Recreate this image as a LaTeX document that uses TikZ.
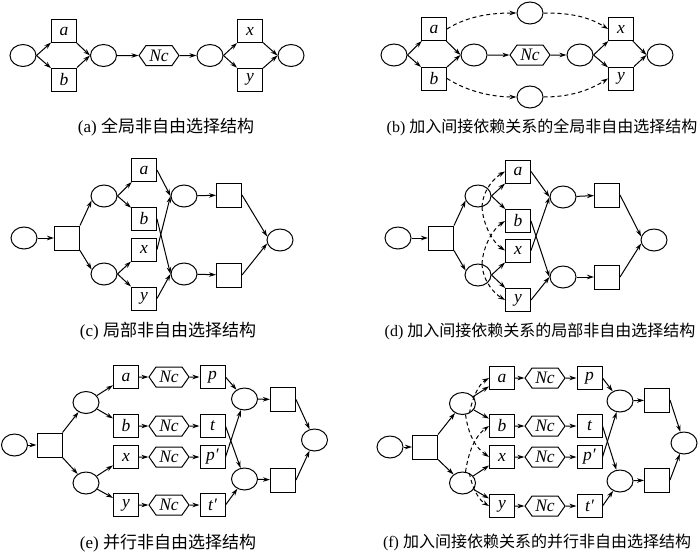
\documentclass[tikz,border=0pt]{standalone}
\usepackage{fontspec}
\setmainfont{Liberation Serif}
\newfontfamily\cjk{Noto Sans CJK SC}
\usetikzlibrary{shapes.geometric,shapes.symbols,arrows.meta}
\begin{document}
\begin{tikzpicture}[x=1pt,y=-1pt,line width=1pt,
  every node/.style={inner sep=0pt},
  plc/.style={ellipse,draw,minimum width=26pt,minimum height=22pt},
  trn/.style={rectangle,draw,minimum width=25pt,minimum height=23pt,font=\fontsize{17.5}{17.5}\selectfont\itshape},
  ncbox/.style={signal,signal to=west and east,draw,minimum width=40pt,minimum height=20pt,signal pointer angle=110,font=\fontsize{17.5}{17.5}\selectfont\itshape},
  arr/.style={-{Stealth[length=7pt,width=4.5pt]}},
  dep/.style={arr,dash pattern=on 4pt off 3pt},
  capt/.style={font=\fontsize{17}{17}\selectfont},
  captl/.style={font=\fontsize{16}{16}\selectfont}]
\useasboundingbox (0,0) rectangle (700,552);

% ---------------- (a)
\node[plc] (a1) at (23,55.5) {};
\node[trn] (a2) at (64,31) {a};
\node[trn] (a3) at (64,79.5) {b};
\node[plc] (a4) at (103.5,55.5) {};
\node[ncbox] (a5) at (159,55.5) {Nc};
\node[plc] (a6) at (210,55.5) {};
\node[trn] (a7) at (250,31) {x};
\node[trn] (a8) at (250,79.5) {y};
\node[plc] (a9) at (291,55.5) {};
\draw[arr] (a1.east) -- (a2);
\draw[arr] (a1.east) -- (a3);
\draw[arr] (a2) -- (a4.west);
\draw[arr] (a3) -- (a4.west);
\draw[arr] (a4) -- (a5);
\draw[arr] (a5) -- (a6);
\draw[arr] (a6.east) -- (a7);
\draw[arr] (a6.east) -- (a8);
\draw[arr] (a7) -- (a9.west);
\draw[arr] (a8) -- (a9.west);
\node[capt] (ca) at (166,127) {(a) {\cjk 全局非自由选择结构}};

% ---------------- (b)
\node[plc] (b1) at (394,55) {};
\node[trn] (b2) at (434,29) {a};
\node[trn] (b3) at (434,78.5) {b};
\node[plc] (b4) at (474,55) {};
\node[ncbox] (b5) at (530,55) {Nc};
\node[plc] (b6) at (580,55) {};
\node[trn] (b7) at (621,29) {x};
\node[trn] (b8) at (621,78.5) {y};
\node[plc] (b9) at (660,55) {};
\node[plc] (bt) at (530,13) {};
\node[plc] (bb) at (530,97) {};
\draw[arr] (b1.east) -- (b2);
\draw[arr] (b1.east) -- (b3);
\draw[arr] (b2) -- (b4.west);
\draw[arr] (b3) -- (b4.west);
\draw[arr] (b4) -- (b5);
\draw[arr] (b5) -- (b6);
\draw[arr] (b6.east) -- (b7);
\draw[arr] (b6.east) -- (b8);
\draw[arr] (b7) -- (b9.west);
\draw[arr] (b8) -- (b9.west);
\draw[dep] (b2.east) .. controls +(22,-14) and +(-22,0) .. (bt.west);
\draw[dep] (bt.east) .. controls +(22,0) and +(-22,-14) .. (b7.west);
\draw[dep] (b3.east) .. controls +(22,14) and +(-22,0) .. (bb.west);
\draw[dep] (bb.east) .. controls +(22,0) and +(-22,14) .. (b8.west);
\node[captl] (cb) at (542,127) {(b) {\cjk 加入间接依赖关系的全局非自由选择结构}};

% ---------------- (c)
\node[plc] (c0) at (24,238) {};
\node[trn,minimum height=24pt] (cT0) at (67,238) {};
\node[plc] (cPu) at (104,196) {};
\node[plc] (cPl) at (104,274) {};
\node[trn] (ca1) at (144,170) {a};
\node[trn] (cb1) at (144,219) {b};
\node[trn] (cx1) at (144,249.5) {x};
\node[trn] (cy1) at (144,298.5) {y};
\node[plc] (cR1) at (184,196) {};
\node[plc] (cR2) at (184,274) {};
\node[trn,minimum height=24pt] (cT1) at (229,195) {};
\node[trn,minimum height=24pt] (cT2) at (229,275) {};
\node[plc] (cE) at (280,240) {};
\draw[arr] (c0) -- (cT0);
\draw[arr] (cT0.north east) -- (cPu.200);
\draw[arr] (cT0.south east) -- (cPl.160);
\draw[arr] (cPu.east) -- (ca1);
\draw[arr] (cPu.east) -- (cb1);
\draw[arr] (cPl.east) -- (cx1);
\draw[arr] (cPl.east) -- (cy1);
\draw[arr] (ca1.east) -- (cR1.west);
\draw[arr] (cx1.east) -- (cR1.west);
\draw[arr] (cb1.east) -- (cR2.west);
\draw[arr] (cy1.east) -- (cR2.west);
\draw[arr] (cR1) -- (cT1);
\draw[arr] (cR2) -- (cT2);
\draw[arr] (cT1.east) -- (cE.165);
\draw[arr] (cT2.east) -- (cE.195);
\node[capt] (cc) at (168,331) {(c) {\cjk 局部非自由选择结构}};

% ---------------- (d)
\node[plc] (d0) at (398,238) {};
\node[trn,minimum height=24pt] (dT0) at (441,238) {};
\node[plc] (dPu) at (478,196) {};
\node[plc] (dPl) at (478,275) {};
\node[trn] (da1) at (518,171.5) {a};
\node[trn] (db1) at (518,221) {b};
\node[trn] (dx1) at (518,250.5) {x};
\node[trn] (dy1) at (518,300) {y};
\node[plc] (dR1) at (563,197) {};
\node[plc] (dR2) at (563,277) {};
\node[trn,minimum height=24pt] (dT1) at (607,195) {};
\node[trn,minimum height=24pt] (dT2) at (607,277) {};
\node[plc] (dE) at (654,240) {};
\draw[arr] (d0) -- (dT0);
\draw[arr] (dT0.north east) -- (dPu.200);
\draw[arr] (dT0.south east) -- (dPl.160);
\draw[arr] (dPu.east) -- (da1);
\draw[arr] (dPu.east) -- (db1);
\draw[arr] (dPl.east) -- (dx1);
\draw[arr] (dPl.east) -- (dy1);
\draw[arr] (da1.east) -- (dR1.west);
\draw[arr] (dx1.east) -- (dR1.west);
\draw[arr] (db1.east) -- (dR2.west);
\draw[arr] (dy1.east) -- (dR2.west);
\draw[arr] (dR1) -- (dT1);
\draw[arr] (dR2) -- (dT2);
\draw[arr] (dT1.east) -- (dE.165);
\draw[arr] (dT2.east) -- (dE.195);
\draw[dep] (dPu.-70) .. controls +(1,-18) and +(-10,6) .. (da1.west);
\draw[dep] (dPu.-70) .. controls +(1,18) and +(-12,-8) .. (dx1.west);
\draw[dep] (dPl.70) .. controls +(1,-18) and +(-12,8) .. (db1.west);
\draw[dep] (dPl.70) .. controls +(1,18) and +(-10,-6) .. (dy1.west);
\node[captl] (cd) at (540,331) {(d) {\cjk 加入间接依赖关系的局部非自由选择结构}};

% ---------------- (e)
\node[plc] (e0) at (14.5,445) {};
\node[trn,minimum height=24pt] (eT0) at (49.5,445) {};
\node[plc] (ePu) at (86,402.5) {};
\node[plc] (ePl) at (86,483) {};
\node[trn] (ea1) at (126,377) {a};
\node[ncbox] (en1) at (169,377) {Nc};
\node[trn] (ep1) at (212.5,377) {p};
\node[trn] (eb1) at (126,426) {b};
\node[ncbox] (en2) at (169,426) {Nc};
\node[trn] (et1) at (212.5,426) {t};
\node[trn] (ex1) at (126,457) {x};
\node[ncbox] (en3) at (169,457) {Nc};
\node[trn] (eq1) at (212.5,457) {p′};
\node[trn] (ey1) at (126,505) {y};
\node[ncbox] (en4) at (169,505) {Nc};
\node[trn] (es1) at (212.5,505) {t′};
\node[plc] (eR1) at (244.5,399) {};
\node[plc] (eR2) at (244.5,479) {};
\node[trn,minimum height=24pt] (eT1) at (283,399.5) {};
\node[trn,minimum height=24pt] (eT2) at (283,480) {};
\node[plc] (eE) at (314.5,440) {};
\draw[arr] (e0) -- (eT0);
\draw[arr] (eT0.north east) -- (ePu);
\draw[arr] (eT0.south east) -- (ePl);
\draw[arr] (ePu) -- (ea1);
\draw[arr] (ePu) -- (eb1);
\draw[arr] (ePl) -- (ex1);
\draw[arr] (ePl) -- (ey1);
\draw[arr] (ea1) -- (en1);
\draw[arr] (en1) -- (ep1);
\draw[arr] (eb1) -- (en2);
\draw[arr] (en2) -- (et1);
\draw[arr] (ex1) -- (en3);
\draw[arr] (en3) -- (eq1);
\draw[arr] (ey1) -- (en4);
\draw[arr] (en4) -- (es1);
\draw[arr] (ep1.east) -- (eR1);
\draw[arr] (eq1.east) -- (eR1);
\draw[arr] (et1.east) -- (eR2);
\draw[arr] (es1.east) -- (eR2);
\draw[arr] (eR1) -- (eT1);
\draw[arr] (eR2) -- (eT2);
\draw[arr] (eT1.east) -- (eE);
\draw[arr] (eT2.east) -- (eE);
\node[capt] (ce) at (168,543) {(e) {\cjk 并行非自由选择结构}};

% ---------------- (f)
\node[plc] (f0) at (390,447) {};
\node[trn,minimum height=24pt] (fT0) at (425,447) {};
\node[plc] (fPu) at (462.5,403.5) {};
\node[plc] (fPl) at (462.5,483) {};
\node[trn] (fa1) at (502,378) {a};
\node[ncbox] (fn1) at (545,378) {Nc};
\node[trn] (fp1) at (589.5,378) {p};
\node[trn] (fb1) at (502,426) {b};
\node[ncbox] (fn2) at (545,426) {Nc};
\node[trn] (ft1) at (589.5,426) {t};
\node[trn] (fx1) at (502,457) {x};
\node[ncbox] (fn3) at (545,457) {Nc};
\node[trn] (fq1) at (589.5,457) {p′};
\node[trn] (fy1) at (502,506) {y};
\node[ncbox] (fn4) at (545,506) {Nc};
\node[trn] (fs1) at (589.5,506) {t′};
\node[plc] (fR1) at (620,401) {};
\node[plc] (fR2) at (620,481) {};
\node[trn,minimum height=24pt] (fT1) at (657,400) {};
\node[trn,minimum height=24pt] (fT2) at (657,480) {};
\node[plc] (fE) at (684,443) {};
\draw[arr] (f0) -- (fT0);
\draw[arr] (fT0.north east) -- (fPu);
\draw[arr] (fT0.south east) -- (fPl);
\draw[arr] (fPu) -- (fa1);
\draw[arr] (fPu) -- (fb1);
\draw[arr] (fPl) -- (fx1);
\draw[arr] (fPl) -- (fy1);
\draw[arr] (fa1) -- (fn1);
\draw[arr] (fn1) -- (fp1);
\draw[arr] (fb1) -- (fn2);
\draw[arr] (fn2) -- (ft1);
\draw[arr] (fx1) -- (fn3);
\draw[arr] (fn3) -- (fq1);
\draw[arr] (fy1) -- (fn4);
\draw[arr] (fn4) -- (fs1);
\draw[arr] (fp1.east) -- (fR1);
\draw[arr] (fq1.east) -- (fR1);
\draw[arr] (ft1.east) -- (fR2);
\draw[arr] (fs1.east) -- (fR2);
\draw[arr] (fR1) -- (fT1);
\draw[arr] (fR2) -- (fT2);
\draw[arr] (fT1.east) -- (fE);
\draw[arr] (fT2.east) -- (fE);
\draw[dep] (fPu.-55) .. controls +(3,-16) and +(-10,6) .. (fa1.west);
\draw[dep] (fPu.-75) .. controls +(3,20) and +(-14,-10) .. (fx1.west);
\draw[dep] (fPl.75) .. controls +(3,-20) and +(-14,10) .. (fb1.west);
\draw[dep] (fPl.55) .. controls +(3,16) and +(-10,-6) .. (fy1.west);
\node[captl] (cf) at (537,542) {(f) {\cjk 加入间接依赖关系的并行非自由选择结构}};
\end{tikzpicture}
\end{document}
